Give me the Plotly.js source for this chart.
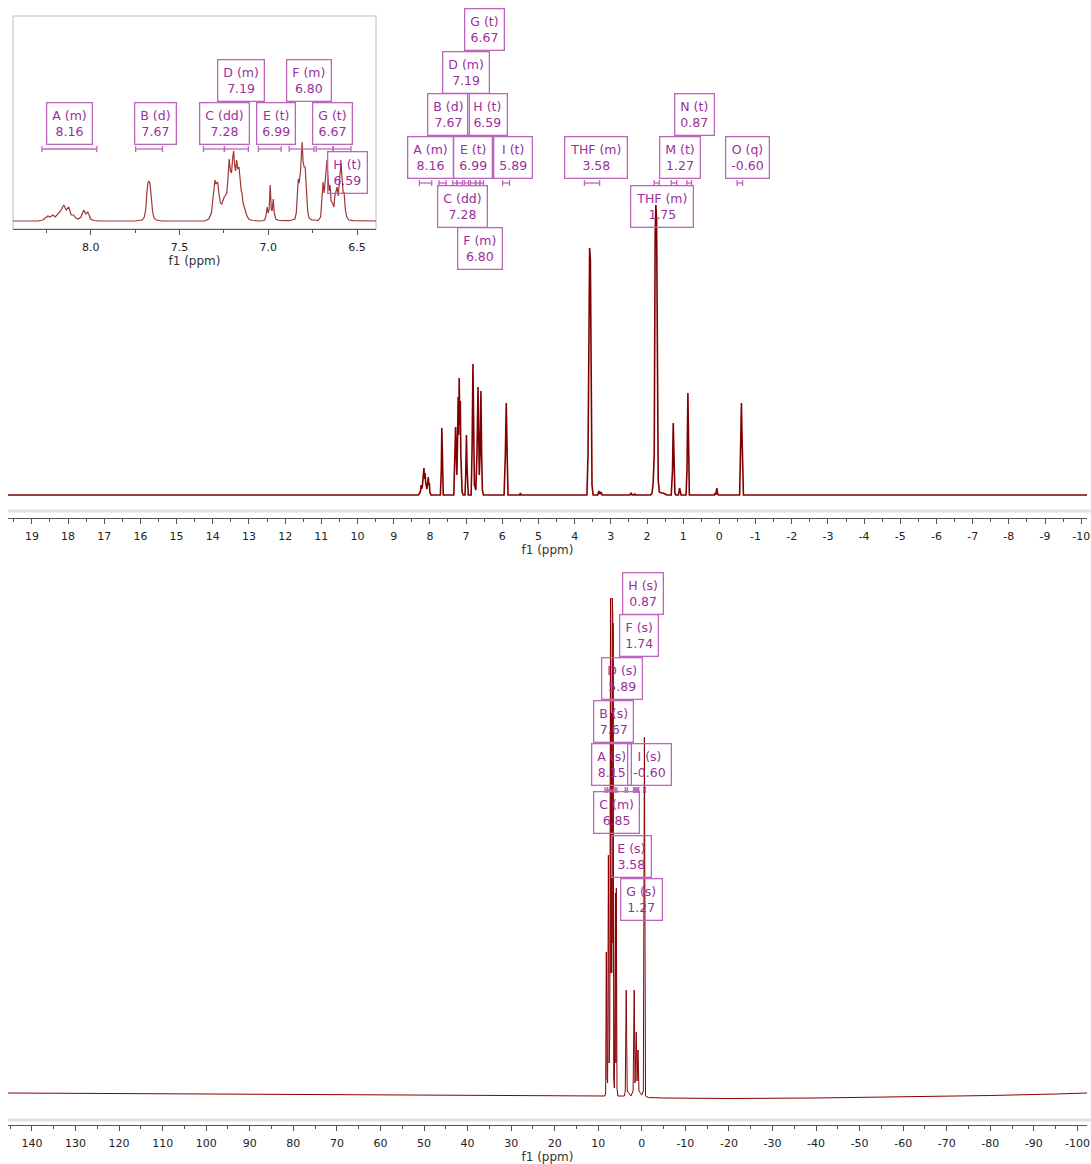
<!DOCTYPE html>
<html>
<head>
<meta charset="utf-8">
<script src="https://cdn.plot.ly/plotly-3.0.1.min.js"></script>
<style>html,body{margin:0;padding:0;background:#fff;}#chart{width:1091px;height:1164px;}</style>
</head>
<body>
<div id="chart"></div>
<script>
// ---------- DATA ----------
// Main 1H spectrum (ppm, intensity)
const topPpm = [19.66, 8.32, 8.28, 8.26, 8.245, 8.23, 8.21, 8.19, 8.165, 8.15, 8.135, 8.115, 8.10, 8.085, 8.065, 8.045, 8.03, 8.015, 8.00, 7.97,
  7.71, 7.685, 7.67, 7.655, 7.63,
  7.34, 7.31, 7.29, 7.27, 7.255, 7.24, 7.22, 7.205, 7.19, 7.175, 7.16, 7.145, 7.13, 7.11, 7.08,
  7.03, 7.01, 6.99, 6.975, 6.96, 6.94,
  6.86, 6.835, 6.81, 6.79, 6.77, 6.73,
  6.70, 6.67, 6.65, 6.635, 6.615, 6.59, 6.57, 6.55, 6.52,
  5.95, 5.915, 5.89, 5.865, 5.84,
  5.52, 5.50, 5.48,
  3.66, 3.63, 3.605, 3.585, 3.565, 3.545, 3.52, 3.49,
  3.36, 3.33, 3.30, 3.27, 3.24,
  2.47, 2.44, 2.41, 2.36, 2.34, 2.32,
  1.90, 1.86, 1.83, 1.80, 1.775, 1.755, 1.735, 1.715, 1.69, 1.66, 1.60, 1.55, 1.45,
  1.33, 1.295, 1.275, 1.255, 1.23, 1.20,
  1.13, 1.10, 1.08, 1.06,
  0.92, 0.895, 0.87, 0.85, 0.83,
  0.14, 0.12, 0.10, 0.07, 0.05, 0.03,
  -0.56, -0.575, -0.595, -0.61, -0.625, -0.645, -0.665,
  -10.16];
const topInt = [0, 0, 2, 4, 10, 6, 8, 14, 27, 16, 22, 12, 8, 6, 10, 18, 10, 12, 3, 0,
  0, 25, 67, 25, 0,
  0, 30, 68, 40, 20, 45, 98, 60, 117, 70, 94, 40, 15, 3, 0,
  0, 20, 60, 30, 5, 0,
  0, 45, 131, 60, 10, 5,
  40, 108, 45, 20, 40, 104, 40, 5, 0,
  0, 40, 92, 40, 0,
  0, 2, 0,
  0, 40, 230, 247, 235, 100, 10, 0,
  0, 4, 1, 3, 0,
  0, 2, 0, 0, 1.5, 0,
  0, 2, 12, 40, 260, 290, 275, 120, 15, 3, 2, 2, 0,
  0, 25, 72, 25, 2, 0,
  0, 7, 2, 0,
  0, 25, 102, 25, 0,
  0, 2, 0, 7, 2, 0,
  0, 35, 60, 92, 60, 35, 0,
  0];

// Inset: aromatic region expansion (ppm, intensity)
const insetPpm = [8.438, 8.30, 8.27, 8.255, 8.242, 8.23, 8.213, 8.20, 8.17, 8.152, 8.138, 8.124, 8.11, 8.096, 8.085, 8.07, 8.055, 8.039, 8.028, 8.017, 8.00, 7.985, 7.95,
  7.75, 7.71, 7.698, 7.69, 7.684, 7.678, 7.672, 7.666, 7.66, 7.652, 7.644, 7.63, 7.60,
  7.36, 7.335, 7.32, 7.312, 7.305, 7.300, 7.295, 7.290, 7.285, 7.278, 7.270, 7.262, 7.255, 7.248, 7.240, 7.234, 7.228, 7.220, 7.213, 7.207, 7.200, 7.195, 7.189, 7.184, 7.178, 7.172, 7.165, 7.159, 7.152, 7.148, 7.142, 7.135, 7.128, 7.122, 7.11, 7.09, 7.05,
  7.04, 7.02, 7.013, 7.006, 7.000, 6.995, 6.989, 6.983, 6.978, 6.972, 6.966, 6.958, 6.94,
  6.88, 6.85, 6.842, 6.836, 6.831, 6.826, 6.818, 6.812, 6.809, 6.804, 6.798, 6.792, 6.786, 6.778, 6.77, 6.755, 6.74,
  6.72, 6.705, 6.697, 6.691, 6.685, 6.675, 6.669, 6.664, 6.657, 6.652, 6.646, 6.638, 6.630,
  6.625, 6.618, 6.612, 6.606, 6.598, 6.590, 6.583, 6.578, 6.573, 6.566, 6.558, 6.545, 6.52, 6.393];
const insetInt = [0, 0, 1, 3, 5, 4, 6, 4, 10, 16, 11, 14, 6, 6, 3, 2, 4, 11, 7, 9, 2, 0.5, 0,
  0, 1, 4, 12, 28, 38, 40, 37, 26, 10, 3, 1, 0,
  0, 2, 8, 22, 38, 41, 37, 38, 39, 28, 18, 17, 22, 24, 26, 28, 40, 62, 50, 48, 64, 70, 55, 50, 61, 52, 54, 38, 30, 28, 18, 14, 9, 6, 2, 0.5, 0,
  0, 1, 5, 14, 8, 12, 36, 12, 10, 22, 8, 2, 0.5,
  0.3, 2, 8, 30, 42, 38, 50, 70, 79, 60, 54, 54, 30, 10, 3, 1, 1,
  0.5, 4, 20, 39, 28, 45, 61, 45, 30, 36, 20, 18, 14,
  25, 30, 34, 25, 40, 58, 40, 28, 29, 12, 4, 1, 0.3, 0];

// Lower spectrum on the wide scale (ppm, intensity)
const lowPpm = [145.5, 120, 100, 80, 60, 40, 20, 10, 8.5,
  8.30, 8.15, 8.0, 7.85, 7.67, 7.50, 7.35, 7.28, 7.23, 7.19, 7.10, 6.99, 6.90, 6.80, 6.73, 6.67, 6.63, 6.59, 6.45, 6.30,
  6.05, 5.95, 5.85, 5.7, 5.5, 4.0, 3.80, 3.58, 3.35, 2.5, 2.0, 1.75, 1.55, 1.27, 1.08, 0.87, 0.65, 0.0, -0.35, -0.60, -0.85,
  -1.5, -5, -20, -40, -60, -80, -95, -102.2];
const lowInt = [0, -0.5, -1, -1.5, -2, -2.5, -2.8, -3, -3,
  0, 141, 15, 10, 238, 30, 60, 470, 120, 495, 120, 380, 120, 495, 140, 480, 150, 470, 15, 5,
  200, 30, 205, 5, -3, -3, 2, 103, 2, -3, 2, 103, 10, 61, 12, 43, 2, -2, 2, 356, -3,
  -4.5, -5, -5.5, -5, -4, -2.5, -1, 0];

// Axis tick values and labels
const topTickVals = [19, 18, 17, 16, 15, 14, 13, 12, 11, 10, 9, 8, 7, 6, 5, 4, 3, 2, 1, 0, -1, -2, -3, -4, -5, -6, -7, -8, -9, -10];
const insetTickVals = [8.0, 7.5, 7.0, 6.5];
const lowTickVals = [140, 130, 120, 110, 100, 90, 80, 70, 60, 50, 40, 30, 20, 10, 0, -10, -20, -30, -40, -50, -60, -70, -80, -90, -100];

// Peak labels (multiplet letter / type, shift)
const topLabelName = ['G (t)', 'D (m)', 'B (d)', 'H (t)', 'A (m)', 'E (t)', 'I (t)', 'THF (m)', 'M (t)', 'N (t)', 'O (q)', 'C (dd)', 'THF (m)', 'F (m)'];
const topLabelShift = ['6.67', '7.19', '7.67', '6.59', '8.16', '6.99', '5.89', '3.58', '1.27', '0.87', '-0.60', '7.28', '1.75', '6.80'];
const insetLabelName = ['A (m)', 'B (d)', 'C (dd)', 'D (m)', 'E (t)', 'F (m)', 'G (t)', 'H (t)'];
const insetLabelShift = ['8.16', '7.67', '7.28', '7.19', '6.99', '6.80', '6.67', '6.59'];
const lowLabelName = ['H (s)', 'F (s)', 'D (s)', 'B (s)', 'A (s)', 'I (s)', 'C (m)', 'E (s)', 'G (s)'];
const lowLabelShift = ['0.87', '1.74', '5.89', '7.67', '8.15', '-0.60', '6.85', '3.58', '1.27'];

// Integration ranges (ppm from, ppm to)
const topRanges = [[8.29, 7.95], [7.75, 7.55], [7.37, 7.25], [7.25, 7.10], [7.05, 6.93], [6.88, 6.74], [6.73, 6.62], [6.62, 6.52], [5.99, 5.80], [3.73, 3.31], [1.80, 1.66], [1.33, 1.18], [0.90, 0.77], [-0.49, -0.64]];
const insetRanges = [[8.275, 7.966], [7.747, 7.596], [7.365, 7.247], [7.247, 7.112], [7.056, 6.927], [6.882, 6.742], [6.730, 6.635], [6.635, 6.534]];
const lowRanges = [[8.45, 7.9], [7.9, 7.4], [7.4, 6.4], [6.1, 5.7], [3.8, 3.3], [1.9, 1.6], [1.45, 1.1], [1.0, 0.7], [-0.4, -0.85]];

// ---------- LAYOUT HELPERS ----------
const W = 1091, H = 1164;
const px = x => x / W;
const py = y => 1 - y / H;

const labelColor = '#9a2f9a';
const boxColor = '#bb66bb';
const tickFont = {family: 'DejaVu Sans', size: 11, color: '#222'};

// label box centres in pixels (layout only)
const topLabelPos = [[484, 29.5], [465.5, 72.5], [448, 114.5], [487.5, 114.5], [430.5, 157.5], [473, 157.5], [512.5, 157.5], [596, 157.5], [679.5, 157.5], [694.5, 115], [747, 157.5], [462, 206], [662, 206], [479.5, 248.5]];
const insetLabelPos = [[69.5, 123.5], [155, 123.5], [224.5, 123.5], [241, 80.5], [275.5, 123.5], [308.5, 80.5], [332.5, 123.5], [347, 172.5]];
const lowLabelPos = [[643, 593], [639, 636], [621.5, 678.5], [613.5, 721.5], [611.5, 764.5], [649.5, 764.5], [616.5, 812.5], [631.5, 856], [641, 899]];

const annotations = [];
function addLabels(names, shifts, pos) {
  names.forEach((n, i) => {
    annotations.push({
      xref: 'paper', yref: 'paper', x: px(pos[i][0]), y: py(pos[i][1]),
      xanchor: 'center', yanchor: 'middle', showarrow: false,
      text: n + '<br>' + shifts[i],
      font: {family: 'DejaVu Sans', size: 12.5, color: labelColor},
      height: 30,
      bordercolor: boxColor, borderwidth: 1.3, borderpad: 5, bgcolor: 'rgba(0,0,0,0)'
    });
  });
}
addLabels(topLabelName, topLabelShift, topLabelPos);
addLabels(insetLabelName, insetLabelShift, insetLabelPos);
addLabels(lowLabelName, lowLabelShift, lowLabelPos);

const shapes = [];
function addRanges(ranges, xref, yPix) {
  ranges.forEach(r => {
    const st = {color: boxColor, width: 1.3};
    shapes.push({type: 'line', xref: xref, yref: 'paper', x0: r[0], x1: r[1], y0: py(yPix), y1: py(yPix), line: st});
    shapes.push({type: 'line', xref: xref, yref: 'paper', x0: r[0], x1: r[0], y0: py(yPix - 3), y1: py(yPix + 3), line: st});
    shapes.push({type: 'line', xref: xref, yref: 'paper', x0: r[1], x1: r[1], y0: py(yPix - 3), y1: py(yPix + 3), line: st});
  });
}
addRanges(topRanges, 'x', 183);
addRanges(insetRanges, 'x2', 149);
addRanges(lowRanges, 'x3', 790);

// light grey bands above axes
shapes.push({type: 'line', xref: 'paper', yref: 'paper', x0: px(8), x1: px(1091), y0: py(511), y1: py(511), line: {color: '#e2e2e2', width: 3}, layer: 'below'});
shapes.push({type: 'line', xref: 'paper', yref: 'paper', x0: px(8), x1: px(1091), y0: py(1120), y1: py(1120), line: {color: '#e2e2e2', width: 3}, layer: 'below'});
// inset frame
shapes.push({type: 'rect', xref: 'paper', yref: 'paper', x0: px(13), x1: px(376), y0: py(229), y1: py(16), line: {color: '#d4d4d4', width: 1.5}, fillcolor: 'rgba(0,0,0,0)', layer: 'below'});

const traces = [
  {x: topPpm, y: topInt, xaxis: 'x', yaxis: 'y', type: 'scatter', mode: 'lines', line: {color: '#800000', width: 1.6}, hoverinfo: 'skip'},
  {x: insetPpm, y: insetInt, xaxis: 'x2', yaxis: 'y2', type: 'scatter', mode: 'lines', line: {color: '#a03535', width: 1.2}, hoverinfo: 'skip'},
  {x: lowPpm, y: lowInt, xaxis: 'x3', yaxis: 'y3', type: 'scatter', mode: 'lines', line: {color: '#8b0000', width: 1}, hoverinfo: 'skip'}
];

function xAxis(domain, range, vals, fmt, minorDtick, anchor) {
  return {
    domain: domain, range: range, anchor: anchor,
    tickmode: 'array', tickvals: vals, ticktext: vals.map(fmt),
    showgrid: false, zeroline: false,
    showline: true, linecolor: '#555', linewidth: 1,
    ticks: 'outside', ticklen: 5, tickcolor: '#555', tickwidth: 1,
    ticklabelstandoff: 3,
    minor: {dtick: minorDtick, tick0: 0, ticks: 'outside', ticklen: 3, tickcolor: '#555', showgrid: false},
    tickfont: tickFont,
    title: {text: 'f1 (ppm)', font: {family: 'DejaVu Sans', size: 12, color: '#333'}, standoff: 0},
    fixedrange: true
  };
}
const intFmt = v => String(v);
const oneDec = v => v.toFixed(1);

const layout = {
  width: W, height: H,
  margin: {l: 0, r: 0, t: 0, b: 0},
  paper_bgcolor: '#fff', plot_bgcolor: 'rgba(0,0,0,0)',
  showlegend: false,
  xaxis: xAxis([px(8), px(1087)], [19.66, -10.16], topTickVals, intFmt, 0.5, 'y'),
  yaxis: {domain: [py(518), py(10)], range: [-23, 485], visible: false, fixedrange: true},
  xaxis2: xAxis([px(13), px(376)], [8.438, 6.393], insetTickVals, oneDec, 0.25, 'y2'),
  yaxis2: {domain: [py(229), py(17)], range: [-8, 204], visible: false, fixedrange: true},
  xaxis3: xAxis([px(8), px(1087)], [145.5, -102.2], lowTickVals, intFmt, 5, 'y3'),
  yaxis3: {domain: [py(1125), py(570)], range: [-32, 523], visible: false, fixedrange: true},
  annotations: annotations,
  shapes: shapes
};

Plotly.newPlot('chart', traces, layout, {staticPlot: true, displayModeBar: false});
</script>
</body>
</html>
